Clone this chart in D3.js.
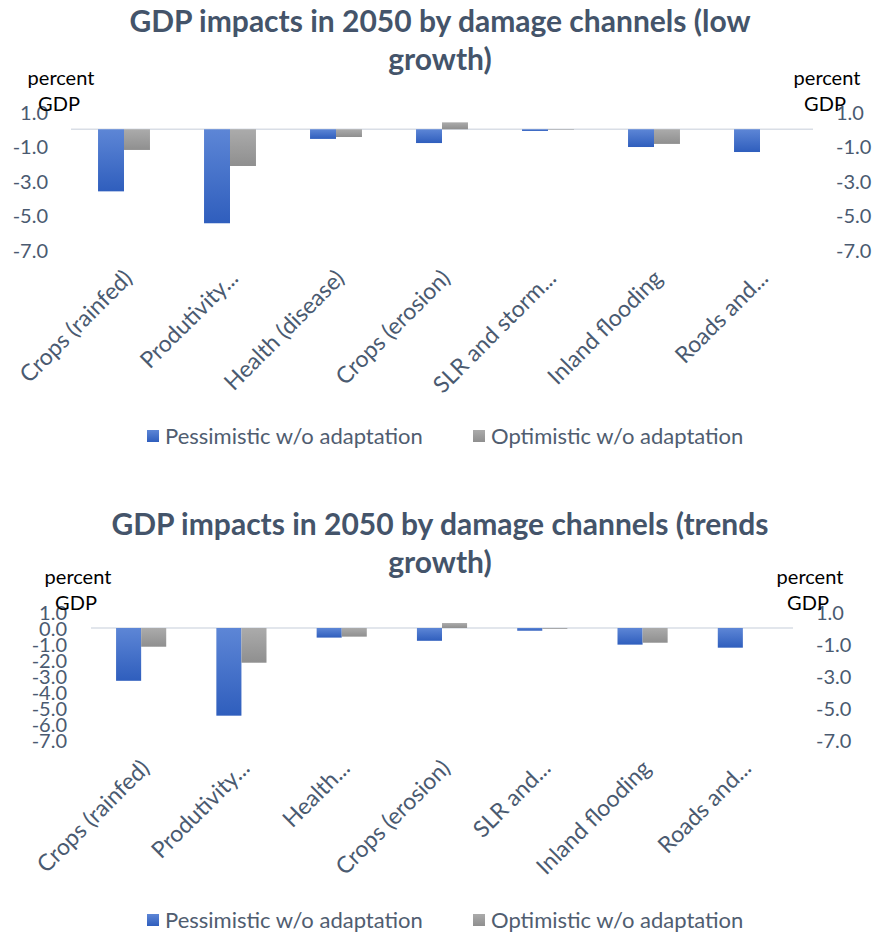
<!DOCTYPE html>
<html><head><meta charset="utf-8">
<script src="https://cdn.jsdelivr.net/npm/d3@7"></script>
<style>
html,body{margin:0;padding:0;background:#fff;}
svg{display:block;}
</style></head>
<body>
<svg id="chart" width="878" height="935"></svg>
<script>
// ---- data ----
const seriesNames = ["Pessimistic w/o adaptation", "Optimistic w/o adaptation"];
const categoriesLow = ["Crops (rainfed)", "Produtivity...", "Health (disease)", "Crops (erosion)", "SLR and storm...", "Inland flooding", "Roads and..."];
const categoriesTrend = ["Crops (rainfed)", "Produtivity...", "Health...", "Crops (erosion)", "SLR and...", "Inland flooding", "Roads and..."];
const pessimisticLow = [-3.6, -5.45, -0.56, -0.8, -0.1, -1.03, -1.32];
const optimisticLow = [-1.2, -2.13, -0.45, 0.4, -0.03, -0.85, 0];
const pessimisticTrend = [-3.3, -5.48, -0.6, -0.8, -0.17, -1.04, -1.23];
const optimisticTrend = [-1.17, -2.17, -0.54, 0.31, -0.05, -0.92, 0];
const ticksLowLeft = [1, -1, -3, -5, -7];
const ticksLowRight = [1, -1, -3, -5, -7];
const ticksTrendLeft = [1, 0, -1, -2, -3, -4, -5, -6, -7];
const ticksTrendRight = [1, -1, -3, -5, -7];
const titleLow = ["GDP impacts in 2050 by damage channels (low", "growth)"];
const titleTrend = ["GDP impacts in 2050 by damage channels (trends", "growth)"];

const svg = d3.select("#chart");
const defs = svg.append("defs");
const gradBlue = defs.append("linearGradient").attr("id", "gBlue").attr("x1", 0).attr("y1", 0).attr("x2", 0).attr("y2", 1);
gradBlue.append("stop").attr("offset", "0%").attr("stop-color", "#5d86d6");
gradBlue.append("stop").attr("offset", "100%").attr("stop-color", "#2f5ebd");
const gradGray = defs.append("linearGradient").attr("id", "gGray").attr("x1", 0).attr("y1", 0).attr("x2", 0).attr("y2", 1);
gradGray.append("stop").attr("offset", "0%").attr("stop-color", "#ababab");
gradGray.append("stop").attr("offset", "100%").attr("stop-color", "#8f8f8f");
const fills = ["url(#gBlue)", "url(#gGray)"];

const FONT = "Lato, 'Open Sans', sans-serif";
const AXIS_COLOR = "#4a5a70";
const fmt = v => d3.format(".1f")(v).replace("\u2212", "-");

function drawChart(cfg) {
  const g = svg.append("g");
  // title
  g.append("text").attr("x", 440).attr("y", cfg.titleY)
    .attr("text-anchor", "middle").attr("font-family", FONT).attr("font-weight", 700)
    .attr("font-size", 30).attr("fill", "#44546A")
    .selectAll("tspan").data(cfg.title).join("tspan")
    .attr("x", 440).attr("dy", (d, i) => i === 0 ? 0 : 38).text(d => d);

  const y = d3.scaleLinear().domain([1, -7]).range([cfg.yTop, cfg.yBottom]);
  const x0 = d3.scaleBand().domain(cfg.categories).range([cfg.xLeft, cfg.xRight]).paddingInner(cfg.pad).paddingOuter(cfg.pad / 2);
  const x1 = d3.scaleBand().domain(seriesNames).range([0, x0.bandwidth()]);

  // zero line
  g.append("line").attr("x1", cfg.xLeft).attr("x2", cfg.xRight)
    .attr("y1", y(0)).attr("y2", y(0)).attr("stroke", "#d9dee6").attr("stroke-width", 1.5);

  const rows = cfg.categories.map((c, i) => ({c, vals: [cfg.pess[i], cfg.opt[i]]}));
  const cg = g.selectAll("g.cat").data(rows).join("g").attr("transform", d => `translate(${x0(d.c)},0)`);
  cg.selectAll("rect").data(d => d.vals.map((v, k) => ({v, k}))).join("rect")
    .attr("x", d => x1(seriesNames[d.k]))
    .attr("width", x1.bandwidth())
    .attr("y", d => Math.min(y(0), y(d.v)))
    .attr("height", d => Math.abs(y(d.v) - y(0)))
    .attr("fill", d => fills[d.k]);

  // left axis
  const la = g.append("g").attr("transform", `translate(${cfg.leftAxisX},0)`)
    .call(d3.axisLeft(y).tickValues(cfg.ticksLeft).tickFormat(fmt).tickSize(0).tickPadding(0));
  la.select(".domain").remove();
  la.selectAll("text").attr("font-family", FONT).attr("font-size", 20).attr("fill", AXIS_COLOR).attr("dy", "0.35em");

  const ra = g.append("g").attr("transform", `translate(${cfg.rightAxisX},0)`)
    .call(d3.axisRight(y).tickValues(cfg.ticksRight).tickFormat(fmt).tickSize(0).tickPadding(0));
  ra.select(".domain").remove();
  ra.selectAll("text").attr("font-family", FONT).attr("font-size", 20).attr("fill", AXIS_COLOR).attr("dy", "0.35em");

  // unit labels
  [cfg.unitLeftX, cfg.unitRightX].forEach(ux => {
    g.append("text").attr("x", ux).attr("y", cfg.unitY).attr("text-anchor", "middle")
      .attr("font-family", FONT).attr("font-size", 20).attr("fill", "#000").text("percent");
    g.append("text").attr("x", ux - 2).attr("y", cfg.unitY + 26).attr("text-anchor", "middle")
      .attr("font-family", FONT).attr("font-size", 20).attr("fill", "#000").text("GDP");
  });

  // category labels
  g.selectAll("text.cat").data(cfg.categories).join("text").attr("class", "cat")
    .attr("transform", d => `translate(${x0(d) + x0.bandwidth() / 2 + 4},${cfg.yBottom + 24}) rotate(-45)`)
    .attr("text-anchor", "end").attr("dy", "0.35em")
    .attr("font-family", FONT).attr("font-size", 23).attr("fill", AXIS_COLOR).text(d => d);

  // legend
  const lg = g.append("g").attr("transform", `translate(0,${cfg.legendY})`);
  const lx = [147, 473];
  seriesNames.forEach((s, k) => {
    lg.append("rect").attr("x", lx[k]).attr("y", -6).attr("width", 12).attr("height", 12).attr("fill", fills[k]);
    lg.append("text").attr("x", lx[k] + 18).attr("y", 0).attr("dy", "0.35em")
      .attr("font-family", FONT).attr("font-size", 22).attr("fill", "#505d70").text(s);
  });
}

drawChart({
  title: titleLow, titleY: 32, categories: categoriesLow, pess: pessimisticLow, opt: optimisticLow,
  yTop: 112, yBottom: 250, xLeft: 71, xRight: 813, pad: 0.51,
  ticksLeft: ticksLowLeft, ticksRight: ticksLowRight, leftAxisX: 48, rightAxisX: 836,
  unitLeftX: 61, unitRightX: 827, unitY: 85, legendY: 436
});
drawChart({
  title: titleTrend, titleY: 535, categories: categoriesTrend, pess: pessimisticTrend, opt: optimisticTrend,
  yTop: 612, yBottom: 740, xLeft: 91, xRight: 793, pad: 0.5,
  ticksLeft: ticksTrendLeft, ticksRight: ticksTrendRight, leftAxisX: 67, rightAxisX: 816,
  unitLeftX: 78, unitRightX: 810, unitY: 584, legendY: 920
});
</script>
</body></html>
